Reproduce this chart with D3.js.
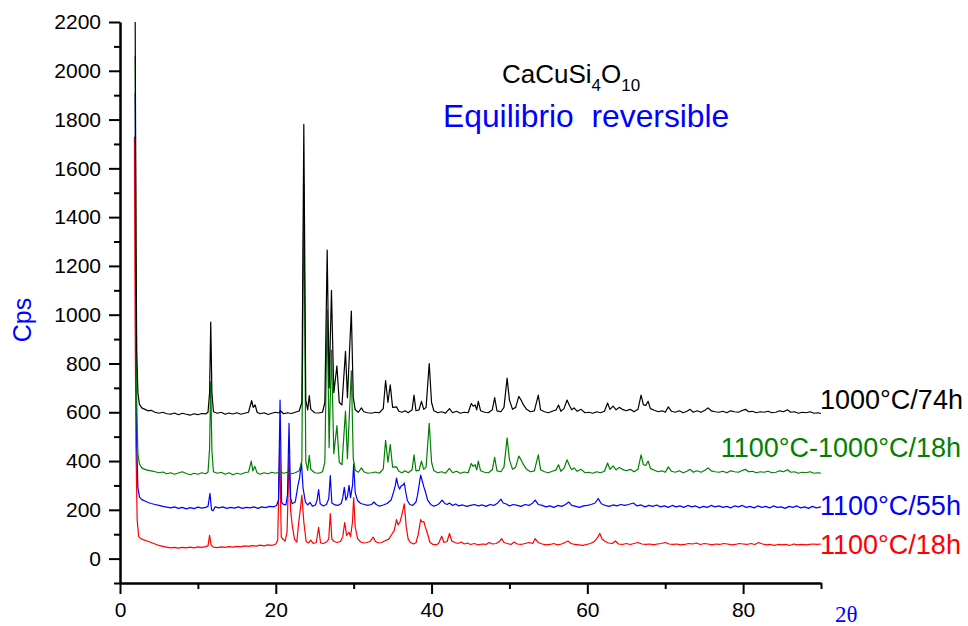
<!DOCTYPE html>
<html>
<head>
<meta charset="utf-8">
<script src="https://cdn.jsdelivr.net/npm/d3@7"></script>
<style>
  body { margin: 0; background: #fff; }
  svg { display: block; font-family: "Liberation Sans", Arial, sans-serif; }
</style>
</head>
<body>
<svg id="chart" width="968" height="626"></svg>
<script>
// XRD patterns, [2theta, cps]
const black1000_74 = [
  [1.95,2200],[2.05,1300],[2.15,850],[2.3,680],[2.5,632],[2.8,618],[3.2,612],[3.6,606],[4.0,608],[4.5,600],[5.0,596],[5.5,600],[6.0,594],[6.5,592],[7.0,597],[7.5,590],[8.0,596],[8.5,592],[9.0,588],[9.5,594],[10.0,590],[10.5,595],[11.0,593],[11.3,600],[11.5,680],[11.65,970],[11.8,680],[12.0,602],[12.5,596],[13.0,600],[13.5,592],[14.0,597],[14.5,593],[15.0,598],[15.5,592],[16.0,596],[16.5,600],[16.9,648],[17.1,620],[17.35,630],[17.6,600],[18.0,594],[18.5,598],[19.0,591],[19.5,596],[20.0,600],[20.4,597],[20.6,606],[21.0,594],[21.5,598],[22.0,595],[22.5,600],[23.0,605],[23.35,640],[23.6,1780],[23.85,650],[24.1,610],[24.3,668],[24.5,612],[25.0,598],[25.5,597],[26.0,600],[26.3,640],[26.6,1265],[26.85,700],[27.15,1100],[27.45,680],[27.85,790],[28.15,640],[28.5,630],[28.95,850],[29.2,660],[29.7,1015],[29.95,660],[30.2,610],[30.6,600],[31.0,618],[31.3,602],[31.8,598],[32.3,596],[32.8,600],[33.3,598],[33.8,615],[34.1,730],[34.4,640],[34.7,712],[35.0,620],[35.5,622],[35.8,604],[36.2,600],[36.6,606],[37.0,598],[37.5,610],[37.75,670],[38.0,606],[38.4,610],[38.7,645],[39.0,612],[39.3,620],[39.7,800],[40.0,640],[40.3,606],[40.8,598],[41.3,602],[41.8,596],[42.3,615],[42.7,598],[43.2,604],[43.7,596],[44.2,600],[44.7,598],[45.1,636],[45.35,625],[45.6,630],[45.8,610],[46.0,645],[46.3,606],[46.8,600],[47.3,598],[47.8,610],[48.1,660],[48.4,606],[48.9,602],[49.3,620],[49.7,740],[50.0,650],[50.4,612],[50.8,620],[51.2,665],[51.5,650],[51.8,630],[52.2,612],[52.7,602],[53.2,606],[53.7,670],[54.0,610],[54.5,602],[55.0,598],[55.5,604],[56.0,610],[56.3,630],[56.6,604],[57.0,615],[57.4,650],[57.7,628],[58.0,610],[58.3,618],[58.7,604],[59.2,612],[59.7,598],[60.2,600],[60.7,596],[61.2,602],[61.7,598],[62.2,604],[62.6,638],[62.9,612],[63.3,625],[63.7,610],[64.1,620],[64.5,612],[65.0,606],[65.5,612],[66.0,602],[66.5,612],[66.9,670],[67.2,630],[67.5,628],[67.8,645],[68.1,615],[68.6,608],[69.1,602],[69.6,606],[70.0,600],[70.4,622],[70.8,604],[71.3,600],[71.8,606],[72.3,598],[72.8,604],[73.2,612],[73.6,600],[74.1,606],[74.6,600],[75.1,608],[75.5,618],[75.9,606],[76.4,602],[76.9,600],[77.4,604],[77.9,598],[78.4,606],[78.9,602],[79.4,600],[79.8,606],[80.3,612],[80.7,602],[81.2,604],[81.7,598],[82.2,602],[82.7,600],[83.2,604],[83.7,598],[84.2,600],[84.7,606],[85.2,602],[85.7,610],[86.1,600],[86.6,602],[87.1,596],[87.6,600],[88.1,598],[88.6,602],[89.1,596],[89.6,598],[90.0,595]
];
const green1100_1000_18 = [
  [1.95,2060],[2.05,1100],[2.15,620],[2.3,430],[2.5,388],[2.8,372],[3.2,366],[3.6,362],[4.0,360],[4.5,356],[5.0,352],[5.5,355],[6.0,348],[6.5,352],[7.0,346],[7.5,351],[8.0,356],[8.5,349],[9.0,344],[9.5,350],[10.0,346],[10.5,352],[11.0,348],[11.3,355],[11.5,450],[11.65,725],[11.8,440],[12.0,356],[12.5,350],[13.0,354],[13.5,346],[14.0,352],[14.5,344],[15.0,350],[15.5,346],[16.0,352],[16.5,355],[16.85,400],[17.05,360],[17.3,378],[17.6,352],[18.0,346],[18.5,352],[19.0,348],[19.5,354],[20.0,350],[20.5,356],[21.0,350],[21.5,354],[22.0,348],[22.5,352],[23.0,360],[23.35,400],[23.6,1535],[23.85,400],[24.1,362],[24.3,423],[24.5,365],[25.0,352],[25.5,350],[26.0,356],[26.3,395],[26.6,1020],[26.85,455],[27.15,855],[27.45,430],[27.85,545],[28.15,395],[28.5,385],[28.95,605],[29.2,410],[29.7,770],[29.95,410],[30.2,362],[30.6,354],[31.0,372],[31.3,356],[31.8,350],[32.3,352],[32.8,355],[33.3,350],[33.8,368],[34.1,485],[34.4,395],[34.7,467],[35.0,375],[35.5,376],[35.8,358],[36.2,352],[36.6,360],[37.0,352],[37.5,364],[37.75,425],[38.0,360],[38.4,362],[38.7,400],[39.0,366],[39.3,376],[39.7,555],[40.0,395],[40.3,360],[40.8,352],[41.3,356],[41.8,350],[42.3,370],[42.7,352],[43.2,358],[43.7,350],[44.2,355],[44.7,352],[45.1,390],[45.35,378],[45.6,385],[45.8,364],[46.0,400],[46.3,360],[46.8,354],[47.3,352],[47.8,364],[48.1,415],[48.4,360],[48.9,356],[49.3,375],[49.7,495],[50.0,405],[50.4,366],[50.8,375],[51.2,420],[51.5,405],[51.8,385],[52.2,366],[52.7,356],[53.2,360],[53.7,425],[54.0,364],[54.5,356],[55.0,352],[55.5,358],[56.0,364],[56.3,385],[56.6,358],[57.0,370],[57.4,405],[57.7,382],[58.0,364],[58.3,372],[58.7,358],[59.2,366],[59.7,352],[60.2,354],[60.7,350],[61.2,356],[61.7,352],[62.2,358],[62.6,392],[62.9,366],[63.3,380],[63.7,364],[64.1,374],[64.5,366],[65.0,360],[65.5,366],[66.0,356],[66.5,366],[66.9,425],[67.2,385],[67.5,382],[67.8,400],[68.1,370],[68.6,362],[69.1,356],[69.6,360],[70.0,354],[70.4,376],[70.8,358],[71.3,354],[71.8,360],[72.3,352],[72.8,358],[73.2,366],[73.6,354],[74.1,360],[74.6,354],[75.1,362],[75.5,372],[75.9,360],[76.4,356],[76.9,354],[77.4,358],[77.9,352],[78.4,360],[78.9,356],[79.4,354],[79.8,360],[80.3,366],[80.7,356],[81.2,358],[81.7,352],[82.2,356],[82.7,354],[83.2,358],[83.7,352],[84.2,354],[84.7,360],[85.2,356],[85.7,364],[86.1,354],[86.6,356],[87.1,350],[87.6,354],[88.1,352],[88.6,356],[89.1,350],[89.6,352],[90.0,350]
];
const blue1100_55 = [
  [1.95,1910],[2.05,950],[2.15,470],[2.3,290],[2.5,252],[2.8,242],[3.2,236],[3.6,230],[4.0,226],[4.5,222],[5.0,218],[5.5,214],[6.0,211],[6.5,208],[7.0,212],[7.5,206],[8.0,210],[8.5,204],[9.0,209],[9.5,205],[10.0,211],[10.5,207],[11.0,210],[11.3,214],[11.55,268],[11.75,200],[11.95,196],[12.2,212],[12.7,208],[13.2,212],[13.7,206],[14.2,210],[14.7,207],[15.2,212],[15.7,206],[16.2,210],[16.7,208],[17.2,212],[17.7,206],[18.2,212],[18.7,209],[19.2,214],[19.7,212],[20.1,218],[20.35,240],[20.55,650],[20.75,230],[21.0,222],[21.3,220],[21.5,260],[21.7,555],[21.9,250],[22.1,225],[22.5,232],[22.85,300],[23.05,330],[23.3,395],[23.5,290],[23.8,232],[24.1,220],[24.4,230],[24.7,215],[25.1,220],[25.3,240],[25.5,283],[25.7,225],[26.1,216],[26.5,222],[26.8,245],[27.0,340],[27.2,228],[27.6,220],[28.0,218],[28.4,226],[28.6,250],[28.8,292],[29.0,240],[29.2,255],[29.4,300],[29.6,250],[29.85,300],[30.0,388],[30.2,270],[30.5,238],[30.9,226],[31.4,222],[31.8,218],[32.3,222],[32.6,232],[32.9,222],[33.3,215],[33.8,220],[34.3,226],[34.8,240],[35.1,270],[35.35,300],[35.5,330],[35.7,300],[35.9,285],[36.1,298],[36.3,300],[36.5,310],[36.7,270],[36.9,238],[37.2,222],[37.6,218],[38.0,232],[38.2,260],[38.4,300],[38.6,342],[38.8,320],[39.0,295],[39.2,275],[39.5,240],[39.9,222],[40.3,215],[40.7,220],[41.0,226],[41.35,240],[41.7,226],[42.0,222],[42.3,228],[42.7,218],[43.1,224],[43.5,216],[44.0,220],[44.5,214],[45.0,218],[45.5,222],[46.0,216],[46.5,220],[47.0,214],[47.5,222],[48.0,218],[48.5,228],[48.9,244],[49.2,228],[49.6,224],[50.0,216],[50.5,222],[51.0,218],[51.5,214],[52.0,222],[52.5,218],[53.0,228],[53.3,240],[53.7,222],[54.2,218],[54.7,212],[55.2,216],[55.7,210],[56.2,218],[56.7,214],[57.2,222],[57.6,232],[58.0,218],[58.5,214],[59.0,210],[59.5,216],[60.0,218],[60.5,222],[61.0,228],[61.4,246],[61.8,225],[62.3,218],[62.8,214],[63.3,220],[63.8,216],[64.3,222],[64.8,218],[65.3,222],[65.9,228],[66.4,216],[66.9,220],[67.4,212],[67.9,218],[68.4,214],[68.9,220],[69.4,212],[69.9,216],[70.4,210],[70.9,218],[71.4,212],[71.9,216],[72.4,210],[72.9,218],[73.4,212],[73.9,216],[74.4,208],[74.9,214],[75.4,210],[75.9,218],[76.4,212],[76.9,216],[77.4,210],[77.9,214],[78.4,208],[78.9,216],[79.4,212],[79.9,218],[80.4,210],[80.9,214],[81.4,208],[81.9,216],[82.4,210],[82.9,214],[83.4,208],[83.9,216],[84.4,210],[84.9,212],[85.4,206],[85.9,214],[86.4,210],[86.9,216],[87.4,208],[87.9,212],[88.4,206],[88.9,214],[89.4,208],[90.0,212]
];
const red1100_18 = [
  [1.85,1730],[1.95,950],[2.05,460],[2.2,160],[2.4,90],[2.7,82],[3.0,77],[3.5,72],[4.0,66],[4.5,60],[5.0,54],[5.5,50],[6.0,47],[6.5,44],[7.0,46],[7.5,43],[8.0,46],[8.5,44],[9.0,47],[9.5,44],[10.0,48],[10.5,46],[11.0,49],[11.3,52],[11.5,95],[11.7,55],[12.0,47],[12.5,45],[13.0,48],[13.5,46],[14.0,49],[14.5,47],[15.0,50],[15.5,48],[16.0,52],[16.5,50],[17.0,53],[17.5,51],[18.0,55],[18.5,52],[19.0,56],[19.5,54],[20.0,60],[20.25,75],[20.5,456],[20.7,90],[20.95,78],[21.2,72],[21.45,110],[21.7,415],[21.9,200],[22.1,140],[22.4,80],[22.7,68],[22.95,150],[23.15,200],[23.35,260],[23.6,150],[23.9,70],[24.2,64],[24.5,76],[24.8,62],[25.2,66],[25.5,128],[25.75,64],[26.1,62],[26.5,68],[26.8,80],[27.0,185],[27.2,80],[27.5,70],[27.9,66],[28.3,70],[28.6,90],[28.85,148],[29.1,95],[29.4,108],[29.6,90],[29.85,150],[30.0,250],[30.2,130],[30.5,82],[30.9,68],[31.3,64],[31.7,66],[32.1,70],[32.5,88],[32.8,70],[33.2,64],[33.6,66],[34.1,74],[34.5,80],[34.9,100],[35.2,115],[35.5,160],[35.7,138],[35.95,150],[36.2,180],[36.5,225],[36.75,130],[37.0,80],[37.3,66],[37.7,60],[38.0,65],[38.3,100],[38.6,160],[38.8,150],[39.0,152],[39.2,130],[39.5,100],[39.8,66],[40.2,58],[40.6,56],[40.9,62],[41.3,92],[41.6,66],[42.0,70],[42.3,103],[42.6,72],[43.0,66],[43.4,62],[43.8,68],[44.2,60],[44.6,64],[45.0,58],[45.5,62],[46.0,56],[46.5,60],[47.0,58],[47.4,66],[47.8,60],[48.3,62],[48.7,70],[49.0,82],[49.3,66],[49.7,62],[50.2,58],[50.6,68],[51.0,60],[51.5,58],[52.0,62],[52.5,66],[53.0,62],[53.3,82],[53.7,66],[54.2,60],[54.7,56],[55.2,58],[55.7,62],[56.2,56],[56.7,60],[57.1,66],[57.5,72],[57.9,62],[58.4,58],[58.9,56],[59.4,54],[59.9,58],[60.4,62],[60.9,70],[61.3,86],[61.6,103],[61.9,80],[62.3,70],[62.7,64],[63.2,62],[63.6,72],[64.0,60],[64.5,58],[65.0,62],[65.5,58],[66.0,62],[66.5,66],[67.0,60],[67.5,58],[68.0,60],[68.5,56],[69.0,60],[69.5,62],[70.0,66],[70.5,60],[71.0,58],[71.5,60],[72.0,56],[72.5,58],[73.0,62],[73.5,60],[74.0,64],[74.5,58],[75.0,62],[75.5,60],[76.0,56],[76.5,60],[77.0,58],[77.5,62],[78.0,60],[78.5,56],[79.0,58],[79.5,62],[80.0,60],[80.5,58],[81.0,62],[81.5,58],[82.0,66],[82.5,60],[83.0,56],[83.5,58],[84.0,54],[84.5,58],[85.0,56],[85.5,58],[86.0,54],[86.5,60],[87.0,56],[87.5,58],[88.0,56],[88.5,58],[89.0,60],[89.5,58],[90.0,60]
];

const seriesNames = ['1100°C/18h', '1100°C/55h', '1100°C-1000°C/18h', '1000°C/74h'];
const seriesData = [red1100_18, blue1100_55, green1100_1000_18, black1000_74];
const seriesColors = ['#ff0000', '#0000ff', '#008000', '#000000'];

const xMajor = [0, 20, 40, 60, 80];
const xMinor = [10, 30, 50, 70, 90];
const yMajor = d3.range(0, 2201, 200);
const yMinor = d3.range(-100, 2200, 200);

const svg = d3.select('#chart');
const plot = { left: 120, right: 821, top: 22, bottom: 583 };

const x = d3.scaleLinear().domain([0, 90]).range([plot.left, plot.right]);
const y = d3.scaleLinear().domain([-100, 2200]).range([plot.bottom, plot.top]);

const line = d3.line().x(d => x(d[0])).y(d => y(d[1]));

// traces
svg.append('g')
  .attr('fill', 'none')
  .attr('stroke-width', 1.2)
  .attr('stroke-linejoin', 'round')
  .selectAll('path')
  .data(seriesData)
  .join('path')
    .attr('d', line)
    .attr('stroke', (d, i) => seriesColors[i]);

// axes
function styleAxis(g) {
  g.select('.domain').attr('stroke', '#000').attr('stroke-width', 2);
  g.selectAll('.tick line').attr('stroke', '#000').attr('stroke-width', 2);
  g.selectAll('.tick text').attr('fill', '#000').attr('font-size', 21).attr('font-family', '"Liberation Sans", Arial, sans-serif');
}

svg.append('g')
  .attr('transform', `translate(0,${plot.bottom})`)
  .call(d3.axisBottom(x).tickValues(xMinor).tickSize(6).tickSizeOuter(0).tickFormat(''))
  .call(styleAxis);
svg.append('g')
  .attr('transform', `translate(0,${plot.bottom})`)
  .call(d3.axisBottom(x).tickValues(xMajor).tickSize(11).tickSizeOuter(0).tickPadding(8).tickFormat(d3.format('d')))
  .call(styleAxis);

svg.append('g')
  .attr('transform', `translate(${plot.left},0)`)
  .call(d3.axisLeft(y).tickValues(yMinor).tickSize(6).tickSizeOuter(0).tickFormat(''))
  .call(styleAxis);
svg.append('g')
  .attr('transform', `translate(${plot.left},0)`)
  .call(d3.axisLeft(y).tickValues(yMajor).tickSize(11).tickSizeOuter(0).tickPadding(8).tickFormat(d3.format('d')))
  .call(styleAxis);

// axis titles
svg.append('text')
  .attr('transform', 'translate(31,320) rotate(-90)')
  .attr('text-anchor', 'middle')
  .attr('font-size', 25)
  .attr('fill', '#0000ff')
  .text('Cps');

svg.append('text')
  .attr('x', 835)
  .attr('y', 622)
  .attr('font-family', '"Liberation Serif", "Times New Roman", serif')
  .attr('font-size', 23)
  .attr('fill', '#0000ff')
  .text('2θ');

// series labels at the right end
const labelPos = [
  { x: 820, y: 554, anchor: 'start' },
  { x: 820, y: 515, anchor: 'start' },
  { x: 961, y: 457, anchor: 'end' },
  { x: 820, y: 409, anchor: 'start' }
];
svg.append('g')
  .attr('font-size', 27)
  .selectAll('text')
  .data(seriesNames)
  .join('text')
    .attr('x', (d, i) => labelPos[i].x)
    .attr('y', (d, i) => labelPos[i].y)
    .attr('text-anchor', (d, i) => labelPos[i].anchor)
    .attr('fill', (d, i) => seriesColors[i])
    .text(d => d);

// title
const title = svg.append('text')
  .attr('x', 502)
  .attr('y', 83)
  .attr('font-size', 26)
  .attr('fill', '#000');
title.append('tspan').text('CaCuSi');
title.append('tspan').attr('font-size', 17).attr('dy', 8).text('4');
title.append('tspan').attr('dy', -8).text('O');
title.append('tspan').attr('font-size', 17).attr('dy', 8).text('10');

svg.append('text')
  .attr('x', 443)
  .attr('y', 127)
  .attr('font-size', 31.8)
  .attr('fill', '#0000ff')
  .style('white-space', 'pre')
  .text('Equilibrio  reversible');
</script>
</body>
</html>
